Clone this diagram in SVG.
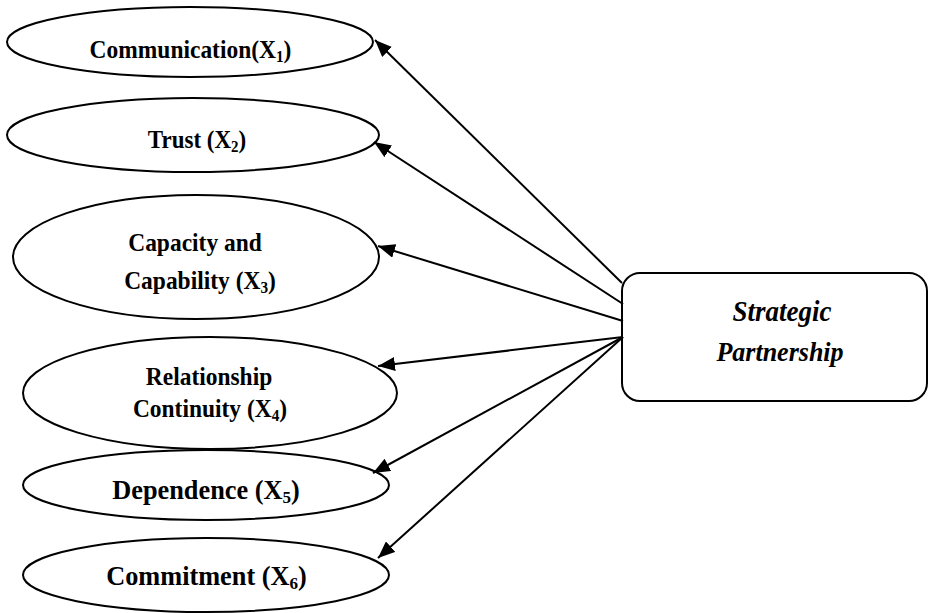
<svg xmlns="http://www.w3.org/2000/svg" width="929" height="613" viewBox="0 0 929 613">
<style>
  .node { fill: #fff; stroke: #000; stroke-width: 2; }
  .lbl { font-family: "Liberation Serif", "Times New Roman", serif; font-weight: bold; fill: #000; text-anchor: middle; }
  .sub { font-size: 0.65em; }
  .conn { stroke: #000; stroke-width: 2; fill: none; marker-end: url(#arrow); }
</style>
<defs>
  <marker id="arrow" markerUnits="userSpaceOnUse" markerWidth="18" markerHeight="14" refX="17" refY="7" orient="auto">
    <path d="M0,0 L17,7 L0,14 Z" fill="#000"/>
  </marker>
</defs>
<rect width="929" height="613" fill="#fff"/>
<g id="n1">
  <ellipse class="node" cx="190" cy="42" rx="183" ry="35"/>
  <text class="lbl" transform="translate(190.5,58) scale(0.92,1)" font-size="25.5">Communication(X<tspan class="sub" dy="4">1</tspan><tspan dy="-4">)</tspan></text>
</g>
<g id="n2">
  <ellipse class="node" cx="193" cy="135" rx="186" ry="37"/>
  <text class="lbl" transform="translate(197,148) scale(0.92,1)" font-size="25">Trust (X<tspan class="sub" dy="4">2</tspan><tspan dy="-4">)</tspan></text>
</g>
<g id="n3">
  <ellipse class="node" cx="196" cy="257" rx="183" ry="62"/>
  <text class="lbl" transform="translate(195,251) scale(0.92,1)" font-size="25.5">Capacity and</text>
  <text class="lbl" transform="translate(200,289) scale(0.92,1)" font-size="25.5">Capability (X<tspan class="sub" dy="4">3</tspan><tspan dy="-4">)</tspan></text>
</g>
<g id="n4">
  <ellipse class="node" cx="210" cy="393" rx="187" ry="56"/>
  <text class="lbl" transform="translate(209,385) scale(0.92,1)" font-size="25.5">Relationship</text>
  <text class="lbl" transform="translate(210,417) scale(0.92,1)" font-size="25.5">Continuity (X<tspan class="sub" dy="4">4</tspan><tspan dy="-4">)</tspan></text>
</g>
<g id="n5">
  <ellipse class="node" cx="206" cy="485" rx="183" ry="35"/>
  <text class="lbl" transform="translate(206,499)" font-size="26.3">Dependence (X<tspan class="sub" dy="4">5</tspan><tspan dy="-4">)</tspan></text>
</g>
<g id="n6">
  <ellipse class="node" cx="206" cy="575" rx="183" ry="37"/>
  <text class="lbl" transform="translate(206.5,585)" font-size="26.3">Commitment (X<tspan class="sub" dy="4">6</tspan><tspan dy="-4">)</tspan></text>
</g>
<g id="sp">
  <rect class="node" x="622" y="273" width="305" height="128" rx="18"/>
  <text class="lbl" transform="translate(782,321) scale(0.93,1)" font-size="29" font-style="italic">Strategic</text>
  <text class="lbl" transform="translate(780,361) scale(0.93,1)" font-size="28" font-style="italic">Partnership</text>
</g>
<g id="connectors">
  <line class="conn" x1="622" y1="283" x2="375" y2="40"/>
  <line class="conn" x1="623" y1="304" x2="374" y2="142"/>
  <line class="conn" x1="623" y1="321" x2="378" y2="246"/>
  <line class="conn" x1="623" y1="337" x2="378" y2="366"/>
  <line class="conn" x1="623" y1="337" x2="373" y2="473"/>
  <line class="conn" x1="623" y1="337" x2="378" y2="558"/>
</g>
</svg>
